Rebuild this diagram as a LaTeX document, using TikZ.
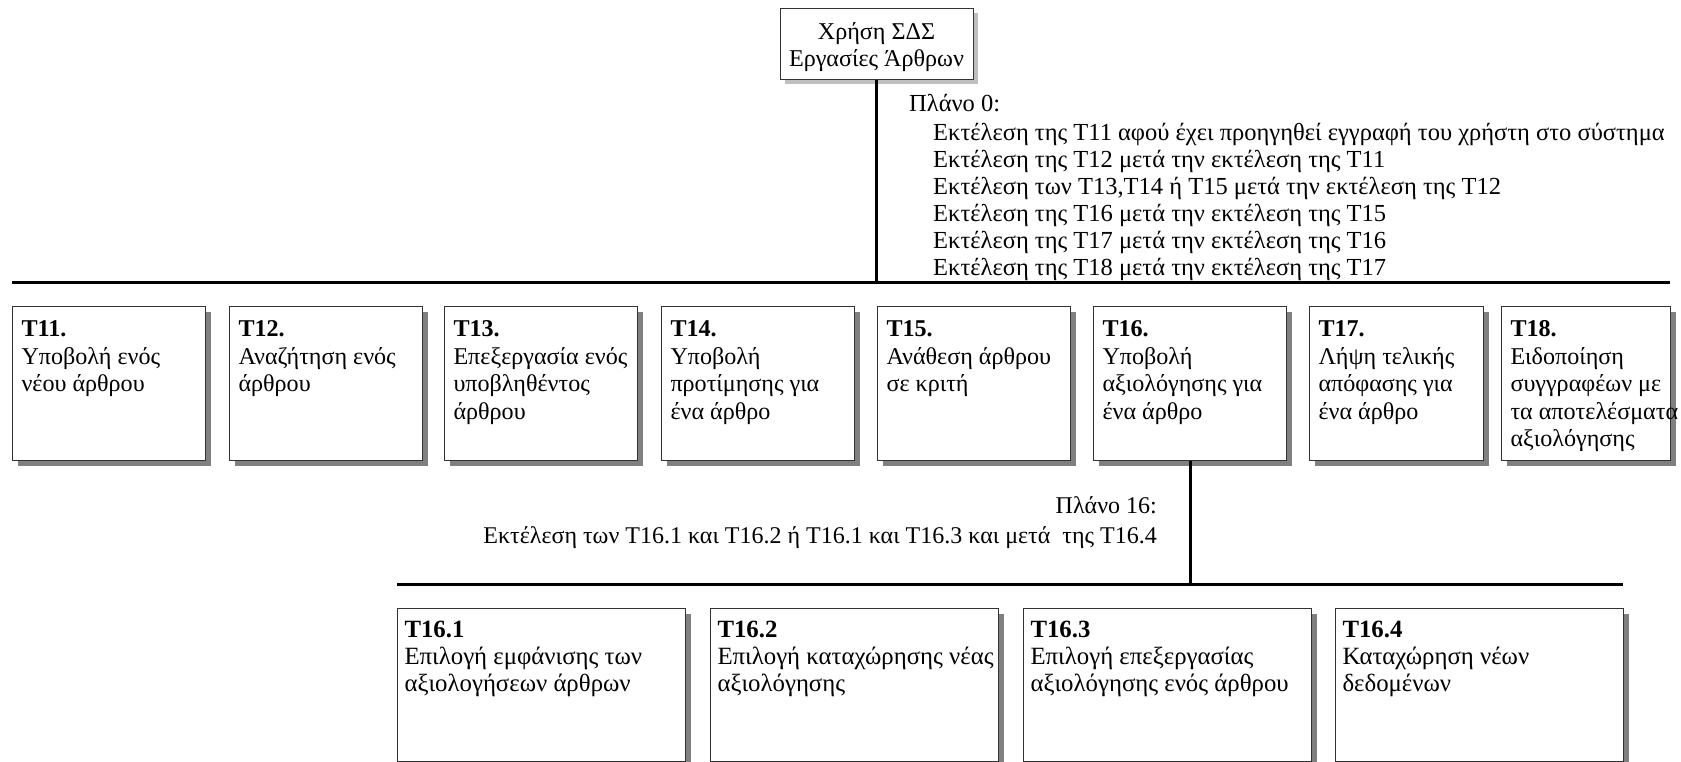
\documentclass[tikz,border=0pt]{standalone}
\usepackage{fontspec}
\setmainfont{Liberation Serif}
\newcommand\fntP{\fontsize{24.5pt}{27pt}\selectfont}
\newcommand\fntB{\fontsize{24.1pt}{27.5pt}\selectfont}
\newcommand\fntL{\fontsize{24.8pt}{27pt}\selectfont}
\newcommand\fntS{\fontsize{24.0pt}{30pt}\selectfont}
\newcommand\boxtxt[2]{\makebox[#1][l]{\begin{tabular}[t]{@{}l@{}}#2\end{tabular}}}
\tikzset{
  bar/.style={line width=3pt, black},
  boxline/.style={draw=black!80, line width=1pt, fill=white},
  shadowed/.style={preaction={fill=black!50, transform canvas={xshift=5pt,yshift=-5pt}}},
  lightshadowed/.style={preaction={fill=black!25, transform canvas={xshift=5pt,yshift=-5pt}}},
  rowbox/.style={boxline, shadowed, anchor=north west, inner xsep=9pt, inner ysep=0pt,
    text height=30pt, text depth=124pt, font=\fntB},
  lowbox/.style={boxline, shadowed, anchor=north west, inner xsep=7pt, inner ysep=0pt,
    text height=29pt, text depth=124pt, font=\fntL},
  rootbox/.style={boxline, lightshadowed, minimum width=193pt, inner xsep=0pt, inner ysep=0pt,
    text height=31pt, text depth=40pt, font=\fntB},
  plantext/.style={inner sep=0pt, text height=15pt},
}
\begin{document}
\begin{tikzpicture}[x=1pt,y=-1pt]
\useasboundingbox[fill=white] (0,0) rectangle (1681,762);

% root
\node[rootbox, anchor=north] (root) at (876.5,8)
  {\begin{tabular}[t]{@{}c@{}}Χρήση ΣΔΣ\\Εργασίες Άρθρων\end{tabular}};

% plan 0
\node[plantext, font=\fntP, anchor=north west] (plan0) at (909,96)
  {\begin{tabular}[t]{@{}l@{}}Πλάνο 0:\\[2pt]
   \hspace*{24pt}Εκτέλεση της T11 αφού έχει προηγηθεί εγγραφή του χρήστη στο σύστημα\\
   \hspace*{24pt}Εκτέλεση της T12 μετά την εκτέλεση της T11\\
   \hspace*{24pt}Εκτέλεση των T13,T14 ή T15 μετά την εκτέλεση της T12\\
   \hspace*{24pt}Εκτέλεση της T16 μετά την εκτέλεση της T15\\
   \hspace*{24pt}Εκτέλεση της T17 μετά την εκτέλεση της T16\\
   \hspace*{24pt}Εκτέλεση της T18 μετά την εκτέλεση της T17\end{tabular}};

% top bar
\coordinate (barAL) at (12,282);
\coordinate (barAR) at (1670,282);
\draw[bar] (barAL) -- (barAR);
\draw[bar] (root.south) -- (root.south |- barAL);

% row of tasks
\node[rowbox] (t11) at (12,306) {\boxtxt{175pt}{\textbf{T11.}\\Υποβολή ενός\\νέου άρθρου}};
\node[rowbox] (t12) at (229,306) {\boxtxt{175pt}{\textbf{T12.}\\Αναζήτηση ενός\\άρθρου}};
\node[rowbox] (t13) at (444,306) {\boxtxt{175pt}{\textbf{T13.}\\Επεξεργασία ενός\\υποβληθέντος\\άρθρου}};
\node[rowbox] (t14) at (661,306) {\boxtxt{175pt}{\textbf{T14.}\\Υποβολή\\προτίμησης για\\ένα άρθρο}};
\node[rowbox] (t15) at (877,306) {\boxtxt{175pt}{\textbf{T15.}\\Ανάθεση άρθρου\\σε κριτή}};
\node[rowbox] (t16) at (1093,306) {\boxtxt{175pt}{\textbf{T16.}\\Υποβολή\\αξιολόγησης για\\ένα άρθρο}};
\node[rowbox] (t17) at (1309,306) {\boxtxt{156pt}{\textbf{T17.}\\Λήψη τελικής\\απόφασης για\\ένα άρθρο}};
\node[rowbox] (t18) at (1501,306) {\boxtxt{151pt}{\textbf{T18.}\\Ειδοποίηση\\συγγραφέων με\\τα αποτελέσματα\\αξιολόγησης}};

% plan 16
\node[plantext, font=\fntS, anchor=north east] (plan16) at (1157,498)
  {\begin{tabular}[t]{@{}r@{}}Πλάνο 16:\\Εκτέλεση των T16.1 και T16.2 ή T16.1 και T16.3 και μετά\ \ της T16.4\end{tabular}};

% lower bar
\coordinate (barBL) at (397,584);
\coordinate (barBR) at (1623,584);
\draw[bar] (barBL) -- (barBR);
\draw[bar] (t16.south) -- (t16.south |- barBL);

% subtasks
\node[lowbox] (t161) at (397,608) {\boxtxt{274pt}{\textbf{T16.1}\\Επιλογή εμφάνισης των\\αξιολογήσεων άρθρων}};
\node[lowbox] (t162) at (710,608) {\boxtxt{274pt}{\textbf{T16.2}\\Επιλογή καταχώρησης νέας\\αξιολόγησης}};
\node[lowbox] (t163) at (1023,608) {\boxtxt{274pt}{\textbf{T16.3}\\Επιλογή επεξεργασίας\\αξιολόγησης ενός άρθρου}};
\node[lowbox] (t164) at (1335,608) {\boxtxt{274pt}{\textbf{T16.4}\\Καταχώρηση νέων\\δεδομένων}};
\end{tikzpicture}
\end{document}
